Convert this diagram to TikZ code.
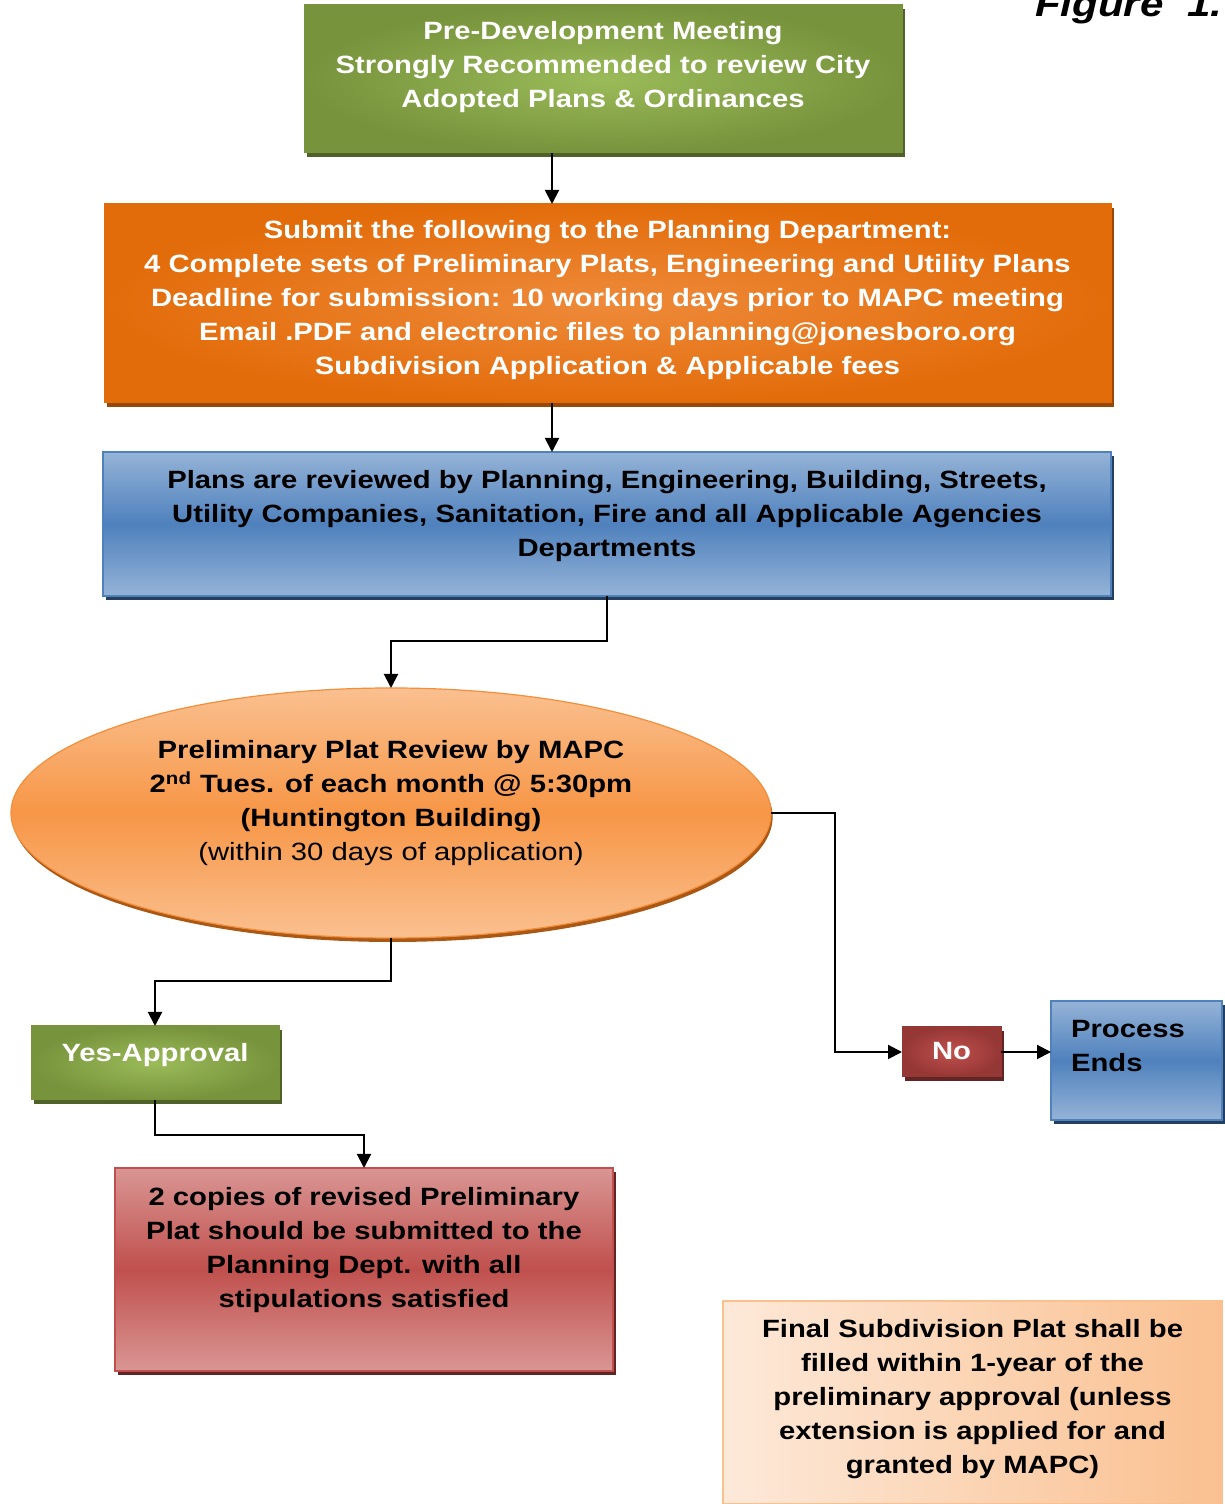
\documentclass[tikz,border=0pt]{standalone}
\usepackage{fontspec}
\setmainfont{Liberation Sans}[FakeStretch=1.17]
\usetikzlibrary{shapes.geometric,shadows,arrows.meta}

\definecolor{greenDark}{HTML}{77933C}
\definecolor{greenLight}{HTML}{9BBB59}
\definecolor{greenShade}{HTML}{4F6228}
\definecolor{orangeDark}{HTML}{E36C0A}
\definecolor{orangeLight}{HTML}{EE8A3A}
\definecolor{orangeShade}{HTML}{984807}
\definecolor{blueDark}{HTML}{4F81BD}
\definecolor{blueLight}{HTML}{95B3D7}
\definecolor{blueShade}{HTML}{243F60}
\definecolor{peachDark}{HTML}{F79646}
\definecolor{peachLight}{HTML}{FAC090}
\definecolor{peachPale}{HTML}{FDE9D9}
\definecolor{redDark}{HTML}{953735}
\definecolor{redMid}{HTML}{C0504D}
\definecolor{redLight}{HTML}{D99694}
\definecolor{redShade}{HTML}{632523}

% text block of fixed size, first baseline pushed down by #3
\newcommand{\boxtext}[4]{\parbox[c][#2][t]{#1}{\centering\vspace*{#3}\strut#4}}

\begin{document}
\begin{tikzpicture}[x=1pt,y=1pt,
  every node/.style={inner sep=0pt, outer sep=0pt},
  txt/.style={font=\fontsize{12.5}{17}\selectfont\bfseries},
  greenbox/.style={txt, text=white, draw=greenDark, line width=0.5pt,
    inner color=greenLight, outer color=greenDark,
    drop shadow={shadow xshift=1.5pt, shadow yshift=-2pt, fill=greenShade, opacity=1}},
  orangebox/.style={txt, text=white, draw=orangeDark, line width=0.5pt,
    inner color=orangeLight, outer color=orangeDark,
    drop shadow={shadow xshift=1.5pt, shadow yshift=-2pt, fill=orangeShade, opacity=1}},
  bluebox/.style={txt, text=black, draw=blueDark, line width=1pt,
    top color=blueLight, bottom color=blueLight, middle color=blueDark,
    drop shadow={shadow xshift=1.5pt, shadow yshift=-2pt, fill=blueShade, opacity=1}},
  platoval/.style={ellipse, txt, text=black, draw=peachDark!80!orangeDark, line width=0.6pt,
    minimum width=380pt, minimum height=125pt,
    top color=peachLight, bottom color=peachLight, middle color=peachDark,
    drop shadow={shadow xshift=0.8pt, shadow yshift=-2pt, fill=orangeShade!80!peachDark, opacity=1}},
  nobox/.style={txt, text=white, draw=redDark, line width=0.5pt,
    inner color=redMid, outer color=redDark,
    drop shadow={shadow xshift=1.5pt, shadow yshift=-2pt, fill=redShade, opacity=1}},
  redbox/.style={txt, text=black, draw=redMid, line width=1pt,
    top color=redLight, bottom color=redLight, middle color=redMid,
    drop shadow={shadow xshift=1.5pt, shadow yshift=-2pt, fill=redShade, opacity=1}},
  finalbox/.style={txt, text=black, draw=peachLight, line width=1pt,
    left color=peachPale, right color=peachLight},
  link/.style={draw=black, line width=1pt, -{Triangle[length=7pt,width=7pt]}}
]
\path[use as bounding box] (0,0) rectangle (612.5,752);

\node[font=\fontsize{18}{20}\selectfont\bfseries\itshape, anchor=base west] (fig) at (517.5,743.5) {Figure\ \ 1.};

\node[greenbox] (pre) at (301.5,712.5) {\boxtext{299pt}{74pt}{5.6pt}{Pre-Development Meeting\\Strongly Recommended to review City\\Adopted Plans \& Ordinances}};

\node[orangebox] (submit) at (303.75,600.25) {\boxtext{503.5pt}{99.5pt}{5.6pt}{Submit the following to the Planning Department:\\4 Complete sets of Preliminary Plats, Engineering and Utility Plans\\Deadline for submission: 10 working days prior to MAPC meeting\\Email .PDF and electronic files to planning@jonesboro.org\\Subdivision Application \& Applicable fees}};

\node[bluebox] (review) at (303.5,490) {\boxtext{504pt}{72pt}{6.6pt}{Plans are reviewed by Planning, Engineering, Building, Streets,\\Utility Companies, Sanitation, Fire and all Applicable Agencies\\Departments}};

\node[platoval] (plat) at (195.5,345.5) {\boxtext{268pt}{88pt}{5.1pt}{Preliminary Plat Review by MAPC\\2\textsuperscript{nd} Tues. of each month @ 5:30pm\\(Huntington Building)\\\mdseries(within 30 days of application)}};

\node[nobox] (no) at (475.75,226) {\boxtext{49.5pt}{25pt}{4.6pt}{No}};

\node[bluebox, line width=1.2pt] (ends) at (568.25,221.75) {\parbox[c][59.5pt][t]{85.5pt}{\raggedright\leftskip=10pt\vspace*{6.6pt}\strut Process\\Ends}};

\node[greenbox] (yes) at (77.5,220.5) {\boxtext{124pt}{37pt}{6.1pt}{Yes-Approval}};

\node[redbox] (copies) at (182,117.25) {\boxtext{249pt}{101.5pt}{7.1pt}{2 copies of revised Preliminary\\Plat should be submitted to the\\Planning Dept. with all\\stipulations satisfied}};

\node[finalbox] (final) at (486.25,50.75) {\boxtext{249.5pt}{101.5pt}{6.6pt}{Final Subdivision Plat shall be\\filled within 1-year of the\\preliminary approval (unless\\extension is applied for and\\granted by MAPC)}};

% connectors
\draw[link] ([xshift=-25.5pt]pre.south) -- ([xshift=-25.5pt]pre.south |- submit.north);
\draw[link] ([xshift=-27.75pt]submit.south) -- ([xshift=-27.75pt]submit.south |- review.north);
\draw[link] (review.south) -- ++(0,-22.5) -| (plat.north);
\draw[link] (plat.east) -- ++(32,0) |- (no.west);
\draw[link] (no.east) -- (no.east -| ends.west);
\draw[link] (plat.south) -- ++(0,-21.5) -| (yes.north);
\draw[link] (yes.south) -- ++(0,-17.5) -| (copies.north);
\end{tikzpicture}
\end{document}
